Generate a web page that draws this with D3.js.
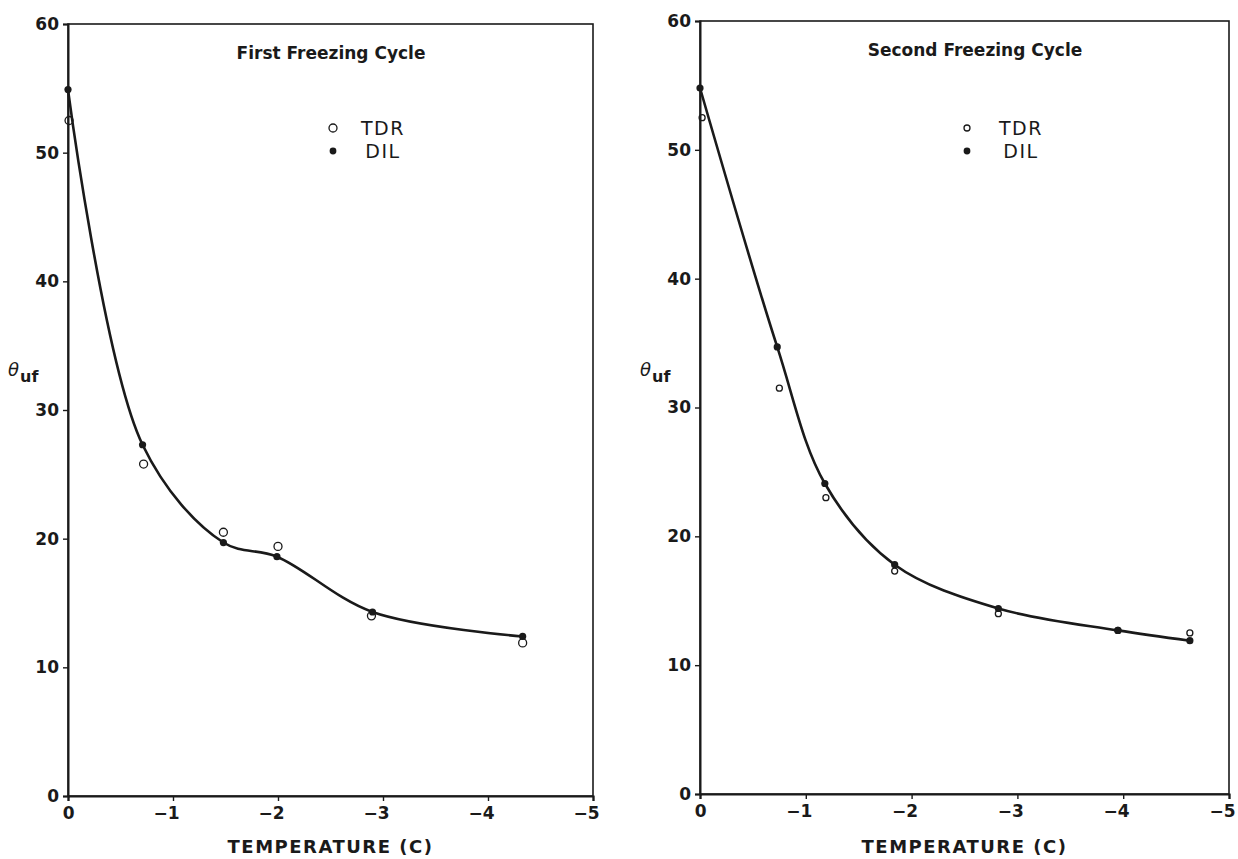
<!DOCTYPE html>
<html>
<head>
<meta charset="utf-8">
<script src="https://cdn.jsdelivr.net/npm/d3@7"></script>
<style>
  body { margin: 0; background: #fff; }
  svg { display: block; }
  text { font-family: "DejaVu Sans", sans-serif; fill: #1a1a1a; }
</style>
</head>
<body>
<div id="chart"></div>
<script>
// 1. Data
const tempTicks = [0, -1, -2, -3, -4, -5];
const thetaTicks = [0, 10, 20, 30, 40, 50, 60];

// first freezing cycle
const cycle1DilTemp = [0, -0.71, -1.48, -1.99, -2.9, -4.33];
const cycle1Dil = [54.9, 27.3, 19.7, 18.6, 14.3, 12.4];
const cycle1TdrTemp = [-0.01, -0.72, -1.48, -2.0, -2.89, -4.33];
const cycle1Tdr = [52.5, 25.8, 20.5, 19.4, 14.0, 11.9];

// second freezing cycle
const cycle2DilTemp = [0, -0.73, -1.18, -1.84, -2.82, -3.95, -4.63];
const cycle2Dil = [54.8, 34.7, 24.1, 17.8, 14.4, 12.7, 11.9];
const cycle2TdrTemp = [-0.02, -0.75, -1.19, -1.84, -2.82, -3.95, -4.63];
const cycle2Tdr = [52.5, 31.5, 23.0, 17.3, 14.0, 12.7, 12.5];

const zip = (xs, ys) => xs.map((x, i) => ({ t: x, v: ys[i] }));

// 2. Dimensions
const dims = { width: 1238, height: 859 };

const panels = [
  {
    title: "First Freezing Cycle",
    dil: zip(cycle1DilTemp, cycle1Dil),
    tdr: zip(cycle1TdrTemp, cycle1Tdr),
    left: 68, right: 593, top: 24, bottom: 796,
    titleX: 331, titleY: 59, legendX: 333, legendTextX: 383, tdrR: 4,
  },
  {
    title: "Second Freezing Cycle",
    dil: zip(cycle2DilTemp, cycle2Dil),
    tdr: zip(cycle2TdrTemp, cycle2Tdr),
    left: 700, right: 1229, top: 21, bottom: 794,
    titleX: 975, titleY: 56, legendX: 967, legendTextX: 1021, tdrR: 3,
  },
];

// 3. Container
const svg = d3
  .select("#chart")
  .append("svg")
  .attr("width", dims.width)
  .attr("height", dims.height);

svg.append("rect").attr("width", dims.width).attr("height", dims.height).attr("fill", "#fff");

panels.forEach(drawPanel);

function drawPanel(p) {
  const g = svg.append("g");

  // 4. Scales
  const xScale = d3.scaleLinear().domain([0, -5]).range([p.left, p.right]);
  const yScale = d3.scaleLinear().domain([0, 60]).range([p.bottom, p.top]);

  // frame
  g.append("rect")
    .attr("x", p.left)
    .attr("y", p.top)
    .attr("width", p.right - p.left)
    .attr("height", p.bottom - p.top)
    .attr("fill", "none")
    .attr("stroke", "#1a1a1a")
    .attr("stroke-width", 1.6);

  // 6. Axes
  const xAxis = g
    .append("g")
    .attr("transform", `translate(0,${p.bottom})`)
    .call(
      d3.axisBottom(xScale)
        .tickValues(tempTicks)
        .tickFormat(d3.format("d"))
        .tickSize(5)
        .tickPadding(6)
    );
  xAxis.select(".domain").attr("stroke-width", 2.2).attr("stroke", "#1a1a1a");
  xAxis.selectAll(".tick line").attr("stroke-width", 1.4).attr("stroke", "#1a1a1a");
  xAxis
    .selectAll(".tick text")
    .attr("text-anchor", "end")
    .attr("dx", 6)
    .style("font-size", "17px")
    .style("font-weight", "bold")
    .style("fill", "#1a1a1a")
    .style("font-family", "DejaVu Sans");

  const yAxis = g
    .append("g")
    .attr("transform", `translate(${p.left},0)`)
    .call(d3.axisLeft(yScale).tickValues(thetaTicks).tickSize(5).tickPadding(4));
  yAxis.select(".domain").attr("stroke-width", 2).attr("stroke", "#1a1a1a");
  yAxis.selectAll(".tick line").attr("stroke-width", 1.4).attr("stroke", "#1a1a1a");
  yAxis
    .selectAll(".tick text")
    .style("font-size", "17px")
    .style("font-weight", "bold")
    .style("fill", "#1a1a1a")
    .style("font-family", "DejaVu Sans");

  // axis titles
  g.append("text")
    .attr("x", (p.left + p.right) / 2)
    .attr("y", 853)
    .attr("text-anchor", "middle")
    .style("font-size", "18px")
    .style("font-weight", "bold")
    .style("letter-spacing", "1.5px")
    .text("TEMPERATURE (C)");

  const yLab = g
    .append("text")
    .attr("x", p.left - 60)
    .attr("y", 376)
    .style("font-size", "18px");
  yLab.append("tspan").style("font-style", "italic").text("θ");
  yLab
    .append("tspan")
    .attr("dy", 6)
    .attr("dx", 1)
    .style("font-size", "16px")
    .style("font-weight", "bold")
    .text("uf");

  // panel title
  g.append("text")
    .attr("x", p.titleX)
    .attr("y", p.titleY)
    .attr("text-anchor", "middle")
    .style("font-size", "17px")
    .style("font-weight", "bold")
    .text(p.title);

  // legend
  g.append("circle")
    .attr("cx", p.legendX)
    .attr("cy", 128)
    .attr("r", p.tdrR)
    .attr("fill", "none")
    .attr("stroke", "#1a1a1a")
    .attr("stroke-width", 1.3);
  g.append("circle")
    .attr("cx", p.legendX)
    .attr("cy", 151)
    .attr("r", 3.4)
    .attr("fill", "#1a1a1a");
  g.append("text")
    .attr("x", p.legendTextX)
    .attr("y", 135)
    .attr("text-anchor", "middle")
    .style("font-size", "19px")
    .style("letter-spacing", "1.5px")
    .text("TDR");
  g.append("text")
    .attr("x", p.legendTextX)
    .attr("y", 158)
    .attr("text-anchor", "middle")
    .style("font-size", "19px")
    .style("letter-spacing", "1.5px")
    .text("DIL");

  // 5. Draw
  g.selectAll(".tdr")
    .data(p.tdr)
    .join("circle")
    .attr("class", "tdr")
    .attr("cx", (d) => xScale(d.t))
    .attr("cy", (d) => yScale(d.v))
    .attr("r", p.tdrR)
    .attr("fill", "none")
    .attr("stroke", "#1a1a1a")
    .attr("stroke-width", 1.3);

  const lineGenerator = d3
    .line()
    .x((d) => xScale(d.t))
    .y((d) => yScale(d.v))
    .curve(d3.curveCatmullRom.alpha(0.5));

  g.append("path")
    .datum(p.dil)
    .attr("d", lineGenerator)
    .attr("fill", "none")
    .attr("stroke", "#1a1a1a")
    .attr("stroke-width", 2.6);

  g.selectAll(".dil")
    .data(p.dil)
    .join("circle")
    .attr("class", "dil")
    .attr("cx", (d) => xScale(d.t))
    .attr("cy", (d) => yScale(d.v))
    .attr("r", 3.6)
    .attr("fill", "#1a1a1a");
}
</script>
</body>
</html>
